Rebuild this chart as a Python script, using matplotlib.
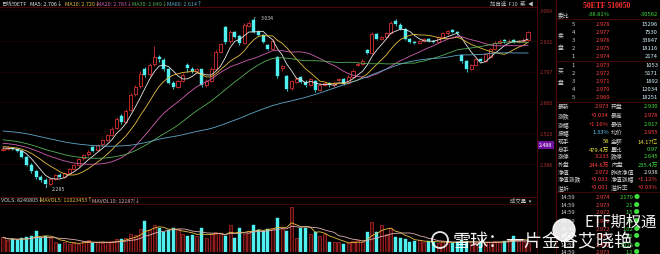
import numpy as np
import pandas as pd
import matplotlib
matplotlib.use('Agg')
import matplotlib.pyplot as plt

plt.rcParams['font.family'] = ['Noto Sans CJK SC', 'DejaVu Sans']

# ---------------- data ----------------
pre_closes = [2.560, 2.575, 2.568, 2.590, 2.602, 2.595, 2.610, 2.598, 2.585, 2.592,
              2.604, 2.615, 2.600, 2.588, 2.576, 2.580, 2.566, 2.570, 2.558, 2.545,
              2.552, 2.560, 2.548, 2.536, 2.540, 2.552, 2.566, 2.560, 2.548, 2.538,
              2.530, 2.524, 2.536, 2.545, 2.538, 2.526, 2.515, 2.520, 2.512, 2.505,
              2.498, 2.506, 2.515, 2.508, 2.496, 2.488, 2.492, 2.480, 2.486, 2.478,
              2.470, 2.476, 2.468, 2.472, 2.465, 2.460, 2.466, 2.458, 2.452]

opens = [2.448, 2.455, 2.460, 2.454, 2.446, 2.420, 2.384, 2.358, 2.330, 2.318,
         2.300, 2.322, 2.340, 2.331, 2.346, 2.367, 2.384, 2.412, 2.430, 2.462,
         2.448, 2.474, 2.496, 2.518, 2.548, 2.598, 2.575, 2.626, 2.698, 2.732,
         2.808, 2.784, 2.830, 2.862, 2.850, 2.806, 2.748, 2.730, 2.756, 2.828,
         2.810, 2.798, 2.806, 2.738, 2.756, 2.810, 2.885, 2.994, 2.930, 2.970,
         2.955, 2.925, 3.000, 3.024, 2.974, 2.958, 2.915, 2.898, 2.860, 2.812,
         2.777, 2.722, 2.750, 2.773, 2.752, 2.738, 2.755, 2.716, 2.738, 2.746,
         2.736, 2.760, 2.764, 2.744, 2.774, 2.826, 2.832, 2.890, 2.879, 2.963,
         2.941, 2.950, 2.968, 3.020, 3.005, 2.985, 2.942, 2.928, 2.924, 2.932,
         2.940, 2.932, 2.928, 2.950, 2.966, 2.980, 2.972, 2.870, 2.845, 2.810,
         2.828, 2.852, 2.845, 2.860, 2.898, 2.924, 2.936, 2.930, 2.936, 2.928,
         2.930, 2.935]
closes = [2.454, 2.459, 2.454, 2.445, 2.419, 2.383, 2.357, 2.330, 2.317, 2.299,
          2.321, 2.339, 2.330, 2.348, 2.366, 2.383, 2.410, 2.428, 2.441, 2.447,
          2.472, 2.494, 2.516, 2.543, 2.587, 2.572, 2.622, 2.693, 2.728, 2.786,
          2.781, 2.826, 2.861, 2.852, 2.808, 2.746, 2.728, 2.755, 2.782, 2.812,
          2.799, 2.808, 2.737, 2.755, 2.808, 2.883, 2.919, 2.928, 2.972, 2.950,
          2.923, 3.003, 3.012, 2.972, 2.960, 2.928, 2.897, 2.932, 2.777, 2.821,
          2.720, 2.755, 2.764, 2.751, 2.737, 2.764, 2.715, 2.737, 2.746, 2.737,
          2.746, 2.764, 2.742, 2.773, 2.799, 2.830, 2.844, 2.879, 2.963, 2.941,
          2.950, 2.967, 3.012, 3.007, 2.985, 2.941, 2.928, 2.923, 2.932, 2.941,
          2.932, 2.928, 2.950, 2.967, 2.976, 2.972, 2.967, 2.842, 2.808, 2.826,
          2.852, 2.844, 2.874, 2.897, 2.923, 2.932, 2.930, 2.934, 2.928, 2.932,
          2.937, 2.973]
highs = [2.462, 2.466, 2.464, 2.458, 2.450, 2.424, 2.392, 2.362, 2.338, 2.325,
         2.326, 2.344, 2.347, 2.352, 2.370, 2.388, 2.414, 2.432, 2.448, 2.466,
         2.476, 2.500, 2.522, 2.550, 2.594, 2.610, 2.630, 2.700, 2.738, 2.800,
         2.816, 2.836, 2.908, 2.872, 2.856, 2.812, 2.754, 2.760, 2.790, 2.836,
         2.818, 2.814, 2.810, 2.762, 2.815, 2.890, 2.925, 3.000, 2.980, 2.976,
         2.960, 3.010, 3.020, 3.034, 2.980, 2.962, 2.920, 2.940, 2.866, 2.828,
         2.782, 2.760, 2.772, 2.778, 2.758, 2.770, 2.760, 2.744, 2.752, 2.752,
         2.752, 2.770, 2.768, 2.780, 2.806, 2.838, 2.852, 2.896, 2.970, 2.968,
         2.956, 2.974, 3.020, 3.030, 3.010, 2.990, 2.946, 2.934, 2.938, 2.946,
         2.944, 2.936, 2.955, 2.974, 2.982, 2.985, 2.978, 2.876, 2.850, 2.832,
         2.858, 2.858, 2.880, 2.902, 2.930, 2.940, 2.940, 2.940, 2.940, 2.938,
         2.944, 2.978]
lows = [2.444, 2.450, 2.449, 2.440, 2.414, 2.378, 2.350, 2.322, 2.310, 2.285,
        2.295, 2.316, 2.325, 2.326, 2.342, 2.361, 2.380, 2.405, 2.424, 2.440,
        2.444, 2.468, 2.490, 2.512, 2.544, 2.566, 2.570, 2.620, 2.690, 2.726,
        2.774, 2.778, 2.822, 2.840, 2.800, 2.740, 2.720, 2.724, 2.750, 2.794,
        2.790, 2.790, 2.730, 2.730, 2.750, 2.805, 2.878, 2.920, 2.925, 2.944,
        2.916, 2.920, 2.995, 2.966, 2.952, 2.922, 2.890, 2.892, 2.770, 2.800,
        2.712, 2.716, 2.744, 2.745, 2.730, 2.732, 2.708, 2.710, 2.732, 2.730,
        2.730, 2.754, 2.736, 2.740, 2.770, 2.820, 2.826, 2.874, 2.874, 2.935,
        2.936, 2.946, 2.964, 3.000, 2.980, 2.935, 2.922, 2.918, 2.920, 2.926,
        2.928, 2.922, 2.924, 2.946, 2.960, 2.966, 2.960, 2.836, 2.795, 2.804,
        2.822, 2.838, 2.840, 2.855, 2.894, 2.918, 2.925, 2.926, 2.922, 2.924,
        2.926, 2.930]
volumes = [7.5, 6.0, 6.5, 6.0, 7.0, 7.5, 8.0, 10.5, 7.0, 8.0,
           7.0, 5.0, 4.0, 5.0, 4.0, 5.0, 4.0, 5.5, 6.0, 4.5,
           5.0, 4.5, 5.0, 5.5, 6.5, 6.5, 7.0, 9.0, 8.5, 11.5,
           16.0, 11.0, 14.0, 12.0, 10.0, 11.0, 12.0, 11.5, 9.0, 8.0,
           8.5, 8.0, 12.5, 7.0, 9.0, 10.0, 9.5, 8.0, 14.0, 7.0,
           12.0, 9.0, 10.5, 14.0, 11.0, 10.5, 11.5, 12.0, 17.5, 11.5,
           10.5, 23.0, 7.0, 12.5, 12.0, 9.0, 10.0, 8.0, 9.0, 5.0,
           5.0, 5.0, 4.0, 4.5, 5.5, 6.0, 5.0, 10.0, 15.5, 10.0,
           14.0, 9.0, 12.5, 7.5, 7.0, 6.5, 5.0, 5.5, 6.0, 5.0,
           5.5, 5.0, 4.5, 5.5, 5.0, 4.5, 5.0, 6.0, 5.5, 5.0,
           4.5, 5.0, 4.5, 5.0, 5.5, 5.0, 5.5, 6.5, 8.0, 6.0,
           5.5, 4.5]

price_ticks = [3.069, 2.932, 2.797, 2.660, 2.523, 2.386]
price_tick_labels = ['3.069', '2.932', '2.797', '2.660', '2.523', '2.386']
ma_periods = [5, 10, 20, 30, 60]
ma_colors = ['#e8e8e8', '#e8c040', '#d060b0', '#58b058', '#60a8c8']

book_labels = ['5', '4', '3', '2', '1', '1', '2', '3', '4', '5']
book_prices = ['2.978', '2.977', '2.976', '2.975', '2.974', '2.973', '2.972', '2.971', '2.970', '2.969']
book_vols = ['15296', '7530', '33847', '18116', '2174', '1053', '5171', '1892', '12034', '18251']

stat_rows = [('最新', '2.973', '#ff4040', '开盘', '2.930', '#40e040'),
             ('涨跌', '+0.034', '#ff4040', '最高', '2.978', '#ff4040'),
             ('涨幅', '+1.16%', '#ff4040', '最低', '2.917', '#40e040'),
             ('振幅', '1.33%', '#60d0ff', '均价', '2.955', '#ff4040'),
             ('现手', '58', '#e8e040', '金额', '14.17亿', '#e8e040'),
             ('总手', '479.4万', '#e8e040', '量比', '0.97', '#40e040'),
             ('涨停', '3.233', '#ff4040', '跌停', '2.645', '#40e040'),
             ('外盘', '244.8万', '#ff4040', '内盘', '235.4万', '#40e040'),
             ('净值', '2.972', '#ff4040', '昨收净值', '2.938', '#e8e8e8'),
             ('净值涨跌', '+0.033', '#ff4040', '净值涨幅', '+1.12%', '#ff4040'),
             ('溢折', '+0.001', '#ff4040', '溢折率', '+0.03%', '#ff4040')]

trade_times = ['14:59', '14:59', '14:59', '14:59', '14:59', '14:59', '14:59', '14:59']
trade_prices = ['2.974', '2.973', '2.972', '2.972', '2.972', '2.972', '2.972', '2.973']
trade_vols = ['2179', '21', '15', '31', '102', '56', '3025', '12']

# ---------------- figure ----------------
W, H = 660, 255
fig = plt.figure(figsize=(6.6, 2.55), dpi=100, facecolor='black')

def box(x0, y0, x1, y1):
    return [x0 / W, 1 - y1 / H, (x1 - x0) / W, (y1 - y0) / H]

o = np.array(opens); c = np.array(closes); h = np.array(highs); l = np.array(lows)
v = np.array(volumes)
n = len(c)
idx = np.arange(n)
up = c >= o
RED = '#d83030'
CYAN = '#50f0f0'
XL = (-0.634, 112.9)

# price panel
axp = fig.add_axes(box(0, 8, 537, 197), facecolor='black')
axp.set_xlim(*XL)
axp.set_ylim(2.246, 3.0825)
for s in axp.spines.values():
    s.set_visible(False)
axp.set_xticks([]); axp.set_yticks([])
for t in price_ticks:
    axp.axhline(t, color='#3c0808', lw=0.5, ls=(0, (2, 2)), zorder=0)

bw = 0.64
lo_b = np.minimum(o, c); hi_b = np.maximum(o, c)
for i in idx:
    col = RED if up[i] else CYAN
    axp.vlines(i, l[i], lo_b[i], color=col, lw=0.6, zorder=2)
    axp.vlines(i, hi_b[i], h[i], color=col, lw=0.6, zorder=2)
hb = np.maximum(hi_b - lo_b, 0.002)
axp.bar(idx[up], hb[up], bottom=lo_b[up], width=bw, facecolor='black',
        edgecolor=RED, lw=0.6, zorder=3)
axp.bar(idx[~up], hb[~up], bottom=lo_b[~up], width=bw, facecolor=CYAN,
        edgecolor=CYAN, lw=0.3, zorder=3)

full = pd.Series(pre_closes + closes)
for p, col in zip(ma_periods, ma_colors):
    ma = full.rolling(p).mean().values[len(pre_closes):]
    axp.plot(idx, ma, color=col, lw=0.6, zorder=4)

imax = int(np.argmax(h)); imin = int(np.argmin(l))
axp.annotate(f'{h[imax]:.3f}', xy=(imax, h[imax]), xytext=(imax + 1.6, h[imax] + 0.004),
             color='#d0d0d0', fontsize=3.8, va='center',
             arrowprops=dict(arrowstyle='-', color='#d0d0d0', lw=0.4))
axp.annotate(f'{l[imin]:.3f}', xy=(imin, l[imin]), xytext=(imin + 1.4, l[imin] - 0.004),
             color='#d0d0d0', fontsize=3.8, va='center',
             arrowprops=dict(arrowstyle='-', color='#d0d0d0', lw=0.4))

ytr = axp.get_yaxis_transform()
for t, lab in zip(price_ticks, price_tick_labels):
    axp.text(1.006, t, lab, transform=ytr, color='#b03030', fontsize=3.8,
             va='center', ha='left', clip_on=False)
axp.text(1.004, 2.472, '2.488', transform=ytr, color='#ffffff', fontsize=3.8,
         va='center', ha='left', clip_on=False,
         bbox=dict(boxstyle='square,pad=0.25', fc='#7010a0', ec='none'))

# volume panel
axv = fig.add_axes(box(0, 205, 537, 253), facecolor='black')
axv.set_xlim(*XL)
axv.set_ylim(0, 24.5)
for s in axv.spines.values():
    s.set_visible(False)
axv.set_xticks([]); axv.set_yticks([])
axv.bar(idx[up], v[up], width=bw, facecolor='#3a0a0a', edgecolor='#c02828', lw=0.5)
axv.bar(idx[~up], v[~up], width=bw, facecolor=CYAN, edgecolor=CYAN, lw=0.3)
vs = pd.Series(volumes)
axv.plot(idx, vs.rolling(5, min_periods=1).mean(), color='#e8c040', lw=0.6)
axv.plot(idx, vs.rolling(10, min_periods=1).mean(), color='#e0b0b0', lw=0.6)

# overlay for texts & frame lines
ov = fig.add_axes([0, 0, 1, 1])
ov.set_xlim(0, W); ov.set_ylim(H, 0); ov.axis('off')
LC = '#5a0808'
ov.plot([0, 537], [8, 8], color=LC, lw=0.6)
ov.plot([0, 537], [197.5, 197.5], color=LC, lw=0.6)
ov.plot([0, 537], [205, 205], color=LC, lw=0.5)
ov.plot([537, 537], [0, 255], color=LC, lw=0.6)
ov.plot([556, 556], [0, 255], color=LC, lw=0.6)

fs = 3.9
ov.text(1, 4, '日线', color='#c0c0c0', fontsize=fs, va='center')
ov.text(12, 4, '50ETF', color='#e0e0e0', fontsize=fs, va='center')
ov.text(30, 4, 'MA5: 2.706↓', color=ma_colors[0], fontsize=fs, va='center')
ov.text(65, 4, 'MA10: 2.720↓', color=ma_colors[1], fontsize=fs, va='center')
ov.text(97, 4, 'MA20: 2.783↓', color=ma_colors[2], fontsize=fs, va='center')
ov.text(132, 4, 'MA30: 2.649↓', color=ma_colors[3], fontsize=fs, va='center')
ov.text(167, 4, 'MA60: 2.614↑', color=ma_colors[4], fontsize=fs, va='center')
ov.text(490, 4, '加自选  F10  菜  ◀', color='#c0c0c0', fontsize=fs, va='center')

ov.text(1, 201, 'VOLS: 8240805↓', color='#d0d0d0', fontsize=fs, va='center')
ov.text(40, 201, 'MAVOL5: 11023453↑', color='#e8c040', fontsize=fs, va='center')
ov.text(92, 201, 'MAVOL10: 12187|↓', color='#e0b0b0', fontsize=fs, va='center')
ov.text(510, 201, '成交量  ▾', color='#c0c0c0', fontsize=fs, va='center')

# right quote panel
ov.text(607, 6.5, '50ETF 510050', color='#ff3030', fontsize=5.6, ha='center',
        va='center', fontweight='bold', family=['Liberation Serif', 'DejaVu Serif'])
pf = 4.2
ov.text(558, 15, '委比', color='#d0d0d0', fontsize=pf, va='center')
ov.text(610, 15, '-38.81%', color='#40e040', fontsize=pf, va='center', ha='right')
ov.text(658, 15, '-30562', color='#40e040', fontsize=pf, va='center', ha='right')
book_y = [24, 32, 40, 49, 57, 66, 74, 82, 90, 98]
for y, lab, pr, vol in zip(book_y, book_labels, book_prices, book_vols):
    ov.text(573, y, lab, color='#d0d0d0', fontsize=pf, va='center', ha='center')
    ov.text(610, y, pr, color='#ff4040', fontsize=pf, va='center', ha='right')
    ov.text(658, y, vol, color='#d8f4ff', fontsize=pf, va='center', ha='right')
for ch, y in [('卖', 36), ('盘', 48), ('买', 71), ('盘', 83)]:
    ov.text(558, y, ch, color='#d0d0d0', fontsize=pf, va='center')
for y in [19.5, 61.5, 102.5, 193]:
    ov.plot([556, 660], [y, y], color=LC, lw=0.5)
stat_y = [107, 116, 125, 133, 142, 150, 157, 165, 173, 180, 188]
for y, (a, av, ac, b, bv, bc) in zip(stat_y, stat_rows):
    ov.text(558, y, a, color='#d0d0d0', fontsize=pf, va='center')
    ov.text(609, y, av, color=ac, fontsize=pf, va='center', ha='right')
    ov.text(611, y, b, color='#d0d0d0', fontsize=pf, va='center')
    ov.text(658, y, bv, color=bc, fontsize=pf, va='center', ha='right')
trade_y = [198, 206, 213, 222, 230, 237, 246, 253]
for y, tt, tp, tv in zip(trade_y, trade_times, trade_prices, trade_vols):
    ov.text(560, y, tt, color='#d0d0d0', fontsize=pf, va='center')
    ov.text(610, y, tp, color='#ff4040', fontsize=pf, va='center', ha='right')
    ov.text(640, y, tv + ' ●', color='#40e040', fontsize=pf, va='center', ha='right')

# watermark (drawn over the chart as in the screenshot)
ov.add_patch(plt.Circle((564, 231), 11, fill=True, fc='white', ec='white', alpha=0.9, zorder=5))
ov.text(585, 222, 'ETF期权通', color='white', fontsize=11, va='center', alpha=0.95, zorder=6)
ov.text(453, 242, '雪球：一片金谷艾晓艳', color='white', fontsize=13, va='center',
        alpha=0.95, zorder=6)
ov.add_patch(plt.Circle((440, 241), 8, fill=False, ec='white', lw=1.3, alpha=0.9, zorder=6))

fig.savefig('out.png', dpi=100, facecolor='black')
